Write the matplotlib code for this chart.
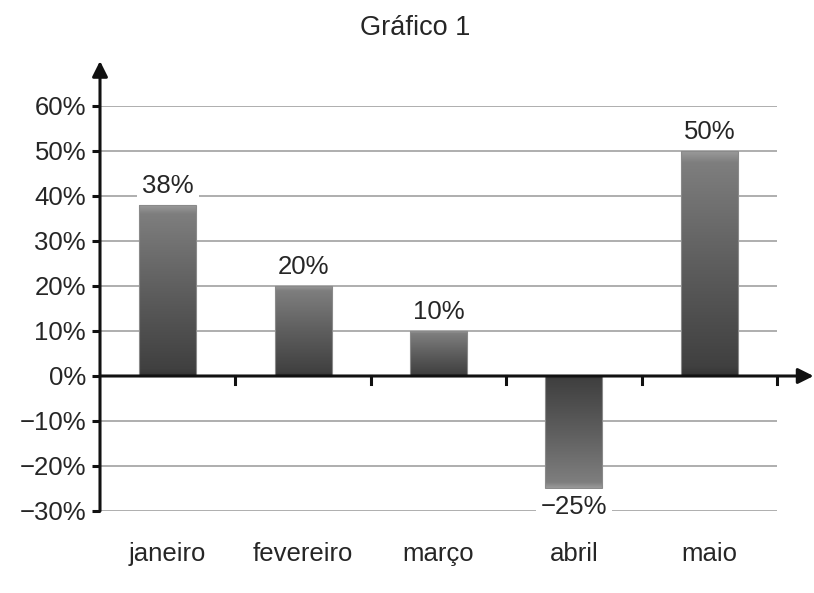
import matplotlib.pyplot as plt
import numpy as np
from matplotlib.colors import LinearSegmentedColormap

meses = ["janeiro", "fevereiro", "março", "abril", "maio"]
variacao = [38, 20, 10, -25, 50]
rotulos = ["38%", "20%", "10%", "\u221225%", "50%"]
yticks = [-30, -20, -10, 0, 10, 20, 30, 40, 50, 60]
yticklabels = ["\u221230%", "\u221220%", "\u221210%", "0%", "10%", "20%",
               "30%", "40%", "50%", "60%"]

plt.rcParams["font.family"] = ["Liberation Sans", "DejaVu Sans"]
plt.rcParams["font.size"] = 18.5
texto = "#262626"

fig = plt.figure(figsize=(8.14, 5.93), dpi=100)
ax = fig.add_axes([100 / 814, 1 - 511 / 593, 677 / 814, 405 / 593])
ax.set_xlim(-0.5, 4.5)
ax.set_ylim(-30, 60)
for s in ax.spines.values():
    s.set_visible(False)

# grid lines (drawn manually so they stop at the last category)
for v in yticks:
    if v != 0:
        ax.plot([-0.5, 4.505], [v, v], color="#a8a8a8", lw=1.3, zorder=1)

# bars with a vertical gradient: dark at zero, lighter at the value end
cmap = LinearSegmentedColormap.from_list(
    "g", [(0, "#333333"), (0.04, "#404040"), (0.5, "#5e5e5e"),
          (0.95, "#7e7e7e"), (1, "#9a9a9a")])
grad = np.linspace(0, 1, 256).reshape(-1, 1)
barras = ax.bar(range(len(meses)), variacao, width=0.42, color="none",
                edgecolor="#8a8a8a", lw=0.8, zorder=3)
for b, v in zip(barras, variacao):
    x0 = b.get_x()
    x1 = x0 + b.get_width()
    img = grad if v >= 0 else grad[::-1]
    im = ax.imshow(img, cmap=cmap, aspect="auto", origin="lower",
                   extent=[x0, x1, min(0, v), max(0, v)], zorder=2)
    im.set_clip_path(b)

# value labels with white boxes over the grid
for i, (v, r) in enumerate(zip(variacao, rotulos)):
    dy = 14 if v >= 0 else -13
    ax.annotate(r, (i, v), xytext=(0, dy), textcoords="offset points",
                ha="center", va="center", color=texto, zorder=5,
                bbox=dict(boxstyle="square,pad=0.2", fc="white", ec="none"))

# axes with arrows
ax.annotate("", xy=(4.77, 0), xytext=(-0.5, 0), annotation_clip=False,
            arrowprops=dict(arrowstyle="-|>,head_length=0.5,head_width=0.25",
                            color="#111111", lw=2.2, shrinkA=0, shrinkB=0),
            zorder=6)
ax.annotate("", xy=(-0.5, 70), xytext=(-0.5, -30), annotation_clip=False,
            arrowprops=dict(arrowstyle="-|>,head_length=0.5,head_width=0.25",
                            color="#111111", lw=2.2, shrinkA=0, shrinkB=0),
            zorder=6)

# y ticks to the left, x ticks below the axis line at category borders
ax.set_yticks(yticks)
ax.set_yticklabels(yticklabels, color=texto)
ax.tick_params(axis="y", length=6, width=2.2, color="#111111", pad=4)
ax.set_xticks([])
for k in range(1, 6):
    ax.plot([k - 0.5, k - 0.5], [0, -1.8], color="#111111", lw=2.2,
            clip_on=False, zorder=6)

for i, m in enumerate(meses):
    ax.text(i, -39.5, m, ha="center", va="center", color=texto)

fig.text(415 / 814, 1 - 28 / 593, "Gráfico 1", ha="center", va="center",
         color=texto, fontsize=19.5)

fig.savefig("out.png", dpi=100)
